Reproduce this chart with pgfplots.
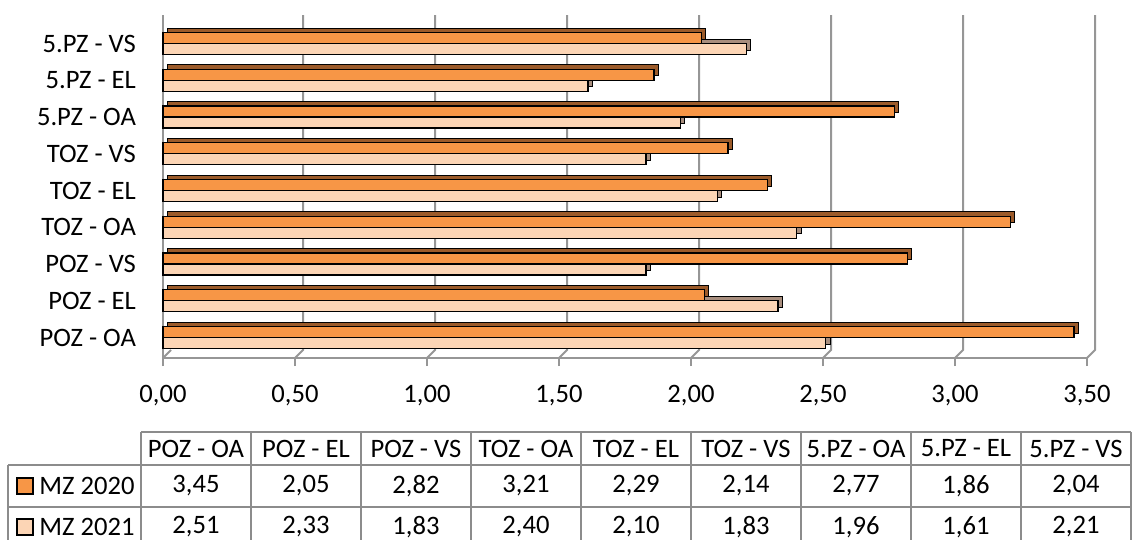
\documentclass[border=0pt]{standalone}
\usepackage{pgfplots}
\usepackage{pgfplotstable}
\pgfplotsset{compat=1.18}
\usepackage{fontspec}
\setmainfont{Carlito}
\definecolor{c20}{HTML}{F79646}
\definecolor{c21}{HTML}{FCD5B5}
\definecolor{s20}{HTML}{9C5B2A}
\definecolor{s21}{HTML}{A88E7E}
\definecolor{grd}{HTML}{969696}
\definecolor{tbl}{HTML}{8C8C8C}
\pgfplotstableread{
cat v2020 v2021
{POZ - OA} 3.45 2.51
{POZ - EL} 2.05 2.33
{POZ - VS} 2.82 1.83
{TOZ - OA} 3.21 2.40
{TOZ - EL} 2.29 2.10
{TOZ - VS} 2.14 1.83
{5.PZ - OA} 2.77 1.96
{5.PZ - EL} 1.86 1.61
{5.PZ - VS} 2.04 2.21
}\data
\newcommand{\fs}{\fontsize{13.3}{15}\selectfont}
\begin{document}
\begin{tikzpicture}[font=\fs]
\path[use as bounding box] (0pt,0pt) rectangle (568pt,-270pt);
\begin{axis}[
  at={(81.5pt,-179pt)}, anchor=south west,
  scale only axis, width=462pt, height=171.5pt,
  xmin=0, xmax=3.5, ymin=-0.558, ymax=8.776,
  axis lines*=left,
  axis line style={grd, line width=1pt, -},
  xtick={0,0.5,...,3.5},
  xticklabel style={/pgf/number format/fixed, /pgf/number format/zerofill, /pgf/number format/precision=2, /pgf/number format/use comma, yshift=-6pt},
  /pgf/number format/assume math mode=true,
  x tick style={grd, line width=1pt},
  tick align=outside,
  major tick length=4pt,
  ytick={0,...,8},
  yticklabels from table={\data}{cat},
  y tick style={draw=none},
  extra y ticks={-0.5,0.5,...,8.5},
  extra y tick labels={},
  extra y tick style={major tick length=4pt, tick align=outside, tick style={grd, line width=1pt, draw=grd}},
  tick label style={font=\fs},
  yticklabel style={xshift=-6pt},
  clip=false,
]
\pgfplotsinvokeforeach{0.5,1,1.5,2,2.5,3,3.5}{
  \draw[grd, line width=1pt] (axis cs:#1,-0.558) -- ++(4pt,4pt) -- ([xshift=4pt]axis cs:#1,8.776);
}
\draw[grd, line width=1pt] (axis cs:0,-0.558) -- ++(4pt,4pt);
\addplot[xbar, bar width=5.5pt, bar shift=-2.75pt, fill=s21, draw=black, line width=0.5pt, xshift=2.2pt, yshift=2.2pt] table[x=v2021, y expr=\coordindex] {\data};
\addplot[xbar, bar width=5.5pt, bar shift=-2.75pt, fill=c21, draw=black, line width=0.7pt] table[x=v2021, y expr=\coordindex] {\data};
\addplot[xbar, bar width=5.5pt, bar shift=2.75pt, fill=s20, draw=black, line width=0.5pt, xshift=2.2pt, yshift=2.2pt] table[x=v2020, y expr=\coordindex] {\data};
\addplot[xbar, bar width=5.5pt, bar shift=2.75pt, fill=c20, draw=black, line width=0.7pt] table[x=v2020, y expr=\coordindex] {\data};
\end{axis}
% data table
\draw[tbl, line width=1pt] (70.5pt,-216pt) -- (565.5pt,-216pt);
\draw[tbl, line width=1pt] (4pt,-232.5pt) -- (565.5pt,-232.5pt);
\draw[tbl, line width=1pt] (4pt,-253.5pt) -- (565.5pt,-253.5pt);
\draw[tbl, line width=1pt] (4pt,-232.5pt) -- (4pt,-270pt);
\foreach \k in {0,...,9} {
  \draw[tbl, line width=1pt] ({70.5pt+55pt*\k},-216pt) -- ({70.5pt+55pt*\k},-270pt);
}
\foreach \i in {0,...,8} {
  \pgfplotstablegetelem{\i}{cat}\of\data
  \node at ({98pt+55pt*\i},-224.25pt) {\pgfplotsretval};
  \pgfplotstablegetelem{\i}{v2020}\of\data
  \node at ({98pt+55pt*\i},-243pt) {\pgfmathprintnumber[fixed, zerofill, precision=2, use comma, assume math mode=true]{\pgfplotsretval}};
  \pgfplotstablegetelem{\i}{v2021}\of\data
  \node at ({98pt+55pt*\i},-263.5pt) {\pgfmathprintnumber[fixed, zerofill, precision=2, use comma, assume math mode=true]{\pgfplotsretval}};
}
\draw[fill=c20, line width=0.6pt] (8.5pt,-239pt) rectangle (16.5pt,-247pt);
\draw[fill=c21, line width=0.6pt] (8.5pt,-259.5pt) rectangle (16.5pt,-267.5pt);
\node[anchor=west, inner sep=0pt] at (19.5pt,-243pt) {MZ 2020};
\node[anchor=west, inner sep=0pt] at (19.5pt,-263.5pt) {MZ 2021};
\end{tikzpicture}
\end{document}
